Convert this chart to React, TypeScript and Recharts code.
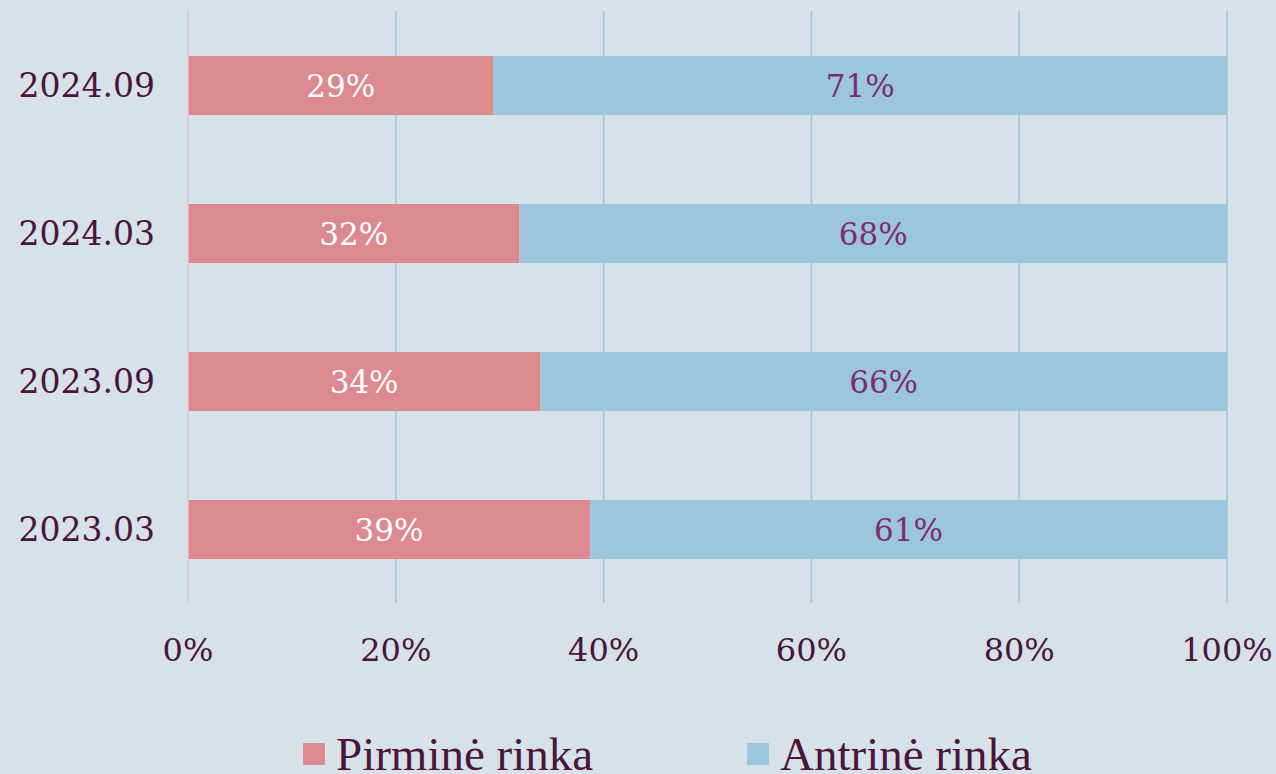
import React from 'react';
import { BarChart, Bar, XAxis, YAxis, CartesianGrid, LabelList, Legend } from 'recharts';

const categories = ['2024.09', '2024.03', '2023.09', '2023.03'];
const pirmine = [29.4, 31.9, 33.9, 38.7];
const antrine = [70.6, 68.1, 66.1, 61.3];
const xTicks = [0, 20, 40, 60, 80, 100];
const seriesNames = { pirmine: 'Pirminė rinka', antrine: 'Antrinė rinka' };
const legendOrder = ['pirmine', 'antrine'];

const data = categories.map((c, i) => ({ name: c, pirmine: pirmine[i], antrine: antrine[i] }));

const BG = '#d6e2e8';
const TEXT = '#4a1538';
const PINK = '#dd8990';
const BLUE = '#9bc6dc';

const renderLegend = (props: any) => {
  const payload = [...(props.payload || [])].sort(
    (a: any, b: any) => legendOrder.indexOf(a.dataKey) - legendOrder.indexOf(b.dataKey)
  );
  return (
    <div style={{ position: 'relative', width: 1276, height: 60 }}>
      {payload.map((entry: any, i: number) => {
        const left = i === 0 ? 303 : 747;
        return (
          <div
            key={i}
            style={{
              position: 'absolute',
              left,
              top: 10,
              display: 'flex',
              alignItems: 'center',
              height: 60,
              whiteSpace: 'nowrap',
            }}
          >
            <span style={{ display: 'inline-block', width: 22, height: 22, background: entry.color, marginRight: 11 }} />
            <span style={{ fontFamily: '"Liberation Serif", serif', fontSize: 47, color: TEXT, lineHeight: '60px' }}>
              {entry.value}
            </span>
          </div>
        );
      })}
    </div>
  );
};

export default function App() {
  return (
    <div style={{ position: 'absolute', left: 0, top: 0, width: 1276, height: 774, background: BG, overflow: 'hidden' }}>
      <BarChart
        width={1276}
        height={774}
        data={data}
        layout="vertical"
        margin={{ top: 11, right: 49, left: 0, bottom: 0 }}
        barSize={59}
      >
        <CartesianGrid horizontal={false} vertical={true} stroke="#9cc8dc" strokeWidth={1.5} />
        <XAxis
          type="number"
          domain={[0, 100]}
          ticks={xTicks}
          tickFormatter={(v: number) => `${v}%`}
          axisLine={false}
          tickLine={false}
          tickMargin={29}
          height={111}
          tick={{ fill: TEXT, fontSize: 32, fontFamily: '"DejaVu Serif", serif' }}
          interval={0}
        />
        <YAxis
          type="category"
          dataKey="name"
          width={188}
          axisLine={{ stroke: '#f2c6dc', strokeWidth: 1.5 }}
          tickLine={false}
          tickMargin={27}
          tick={{ fill: TEXT, fontSize: 33, fontFamily: '"DejaVu Serif", serif' }}
        />
        <Legend verticalAlign="bottom" height={60} content={renderLegend} wrapperStyle={{ left: 0, width: 1276 }} />
        <Bar dataKey="pirmine" name={seriesNames.pirmine} stackId="a" fill={PINK} isAnimationActive={false}>
          <LabelList
            dataKey="pirmine"
            position="center"
            formatter={(v: any) => `${Math.round(Number(v))}%`}
            fill="#ffffff"
            style={{ fontSize: 31, fontFamily: '"DejaVu Serif", serif' }}
          />
        </Bar>
        <Bar dataKey="antrine" name={seriesNames.antrine} stackId="a" fill={BLUE} isAnimationActive={false}>
          <LabelList
            dataKey="antrine"
            position="center"
            formatter={(v: any) => `${Math.round(Number(v))}%`}
            fill="#7d2b72"
            style={{ fontSize: 31, fontFamily: '"DejaVu Serif", serif' }}
          />
        </Bar>
      </BarChart>
    </div>
  );
}
